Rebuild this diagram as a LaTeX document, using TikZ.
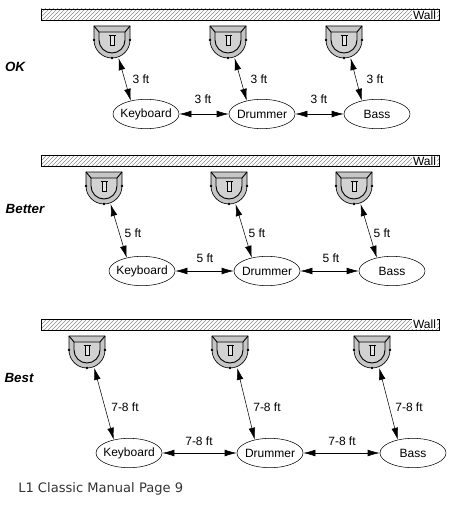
\documentclass[tikz,border=0pt]{standalone}
\usepackage{fontspec}
\setmainfont{Liberation Sans}
\newfontfamily\captionfont{DejaVu Sans}
\usetikzlibrary{arrows.meta,shapes.geometric,patterns}

\tikzset{
  player/.style={draw, ellipse, line width=0.4pt, inner sep=-2pt, minimum width=49.5pt, minimum height=22pt, font=\fontsize{9}{11}\selectfont},
  wall/.style={draw, line width=0.6pt, pattern=north east lines, pattern color=black!45},
  walltag/.style={fill=white, inner sep=0.6pt, font=\fontsize{9}{11}\selectfont},
  gap/.style={>={Latex[length=9pt,width=5pt]}, <->, line width=0.4pt},
  dist/.style={font=\fontsize{9}{11}\selectfont},
  rowtag/.style={font=\fontsize{10}{11}\selectfont\bfseries\itshape},
  spot/.style={circle, inner sep=0pt, minimum size=28.5pt}
}

% one cabinet: name, x of its middle, y of its top edge
\newcommand{\cabinet}[3]{
  \begin{scope}[shift={(#2,#3)}]
    \draw[fill=gray!45, line width=0.5pt] (-18,0) -- (18,0) -- (18,14) arc[start angle=0, end angle=-180, x radius=18, y radius=-18] -- cycle;
    \draw[fill=gray!35, line width=0.7pt] (-13,6) -- (-13,14) arc[start angle=180, end angle=360, x radius=13, y radius=-13] -- (13,6) -- cycle;
    \draw[line width=0.7pt] (-18,0) -- (-13,6) (13,6) -- (18,0);
    \draw[fill=gray!20, line width=0.5pt] (-2,9) rectangle (2,19);
    \draw[line width=0.5pt] (-3.5,9) -- (3.5,9);
    \fill (-18,14) circle[radius=1.3];
    \fill (18,14) circle[radius=1.3];
    \fill (0,32) circle[radius=1.3];
    \node[spot] (#1) at (0,14) {};
  \end{scope}
}

\begin{document}
\begin{tikzpicture}[x=0.75pt, y=-0.75pt]
  \useasboundingbox (0,0) rectangle (449,510);

  % OK
  \draw[wall] (41,9) rectangle (439,20);
  \node[walltag, anchor=east] (wallA) at (437,15) {Wall};
  \node[rowtag] (rowA) at (15,67) {OK};
  \cabinet{ampAa}{112}{26}
  \cabinet{ampAb}{228}{26}
  \cabinet{ampAc}{344}{26}
  \node[player] (keyA) at (146,114) {Keyboard};
  \node[player] (drumA) at (262,114) {Drummer};
  \node[player] (bassA) at (377,114) {Bass};
  \draw[gap] (ampAa.-70) -- (keyA.139);
  \draw[gap] (ampAb.-70) -- (drumA.139);
  \draw[gap] (ampAc.-70) -- (bassA.139);
  \draw[gap] (keyA) -- (drumA);
  \draw[gap] (drumA) -- (bassA);
  \node[dist] (dAa) at (141,79) {3 ft};
  \node[dist] (dAb) at (203,99) {3 ft};
  \node[dist] (dAc) at (259,79) {3 ft};
  \node[dist] (dAd) at (319,99) {3 ft};
  \node[dist] (dAe) at (375,79) {3 ft};

  % Better
  \draw[wall] (41,155) rectangle (439,166);
  \node[walltag, anchor=east] (wallB) at (437,161) {Wall};
  \node[rowtag] (rowB) at (25,209) {Better};
  \cabinet{ampBa}{104}{172}
  \cabinet{ampBb}{229}{172}
  \cabinet{ampBc}{354}{172}
  \node[player] (keyB) at (142,271) {Keyboard};
  \node[player] (drumB) at (267,271) {Drummer};
  \node[player] (bassB) at (392,271) {Bass};
  \draw[gap] (ampBa.-70) -- (keyB.139);
  \draw[gap] (ampBb.-70) -- (drumB.139);
  \draw[gap] (ampBc.-70) -- (bassB.139);
  \draw[gap] (keyB) -- (drumB);
  \draw[gap] (drumB) -- (bassB);
  \node[dist] (dBa) at (133,233) {5 ft};
  \node[dist] (dBb) at (205,258) {5 ft};
  \node[dist] (dBc) at (257,233) {5 ft};
  \node[dist] (dBd) at (331,258) {5 ft};
  \node[dist] (dBe) at (382,233) {5 ft};

  % Best
  \draw[wall] (41,319) rectangle (439,330);
  \node[walltag, anchor=east] (wallC) at (437,324) {Wall};
  \node[rowtag] (rowC) at (19,378) {Best};
  \cabinet{ampCa}{87}{336}
  \cabinet{ampCb}{230}{336}
  \cabinet{ampCc}{372}{336}
  \node[player] (keyC) at (129,453) {Keyboard};
  \node[player] (drumC) at (270,453) {Drummer};
  \node[player] (bassC) at (413,453) {Bass};
  \draw[gap] (ampCa.-68) -- (keyC.139);
  \draw[gap] (ampCb.-68) -- (drumC.139);
  \draw[gap] (ampCc.-68) -- (bassC.139);
  \draw[gap] (keyC) -- (drumC);
  \draw[gap] (drumC) -- (bassC);
  \node[dist] (dCa) at (125,407) {7-8 ft};
  \node[dist] (dCb) at (199,441) {7-8 ft};
  \node[dist] (dCc) at (267,407) {7-8 ft};
  \node[dist] (dCd) at (342,441) {7-8 ft};
  \node[dist] (dCe) at (409,407) {7-8 ft};

  \node[anchor=west, inner sep=0pt, font=\captionfont\fontsize{9.8}{11}\selectfont, text=black!80] (pageref) at (18,489) {L1 Classic Manual Page 9};
\end{tikzpicture}
\end{document}
